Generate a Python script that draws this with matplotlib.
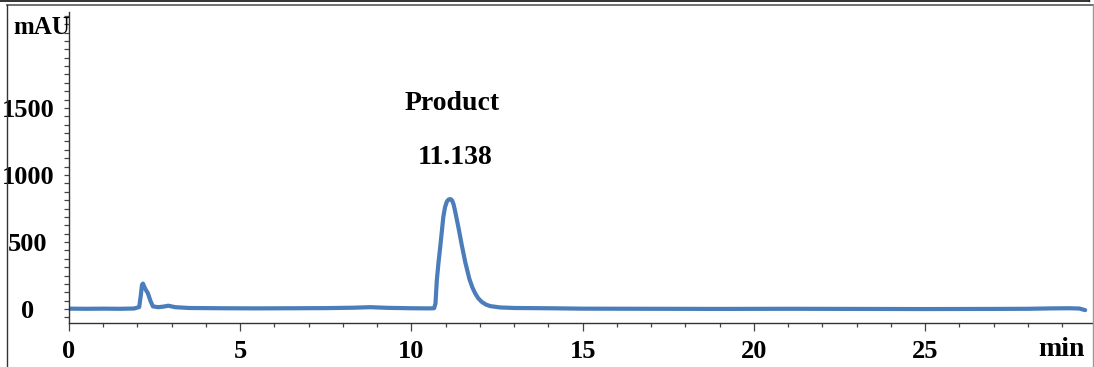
import matplotlib.pyplot as plt
from matplotlib.ticker import MultipleLocator
from matplotlib.lines import Line2D

# HPLC trace, retention time (min) vs absorbance (mAU)
time_min = [0.0, 0.5, 1.0, 1.5, 1.9, 2.05, 2.10, 2.13, 2.16, 2.20, 2.25, 2.30, 2.38, 2.45,
            2.6, 2.75, 2.9, 3.1, 3.5, 4.5, 5.5, 6.5, 7.5, 8.3, 8.8, 9.3, 10.0,
            10.5, 10.66, 10.70, 10.74, 10.79, 10.84, 10.93, 10.98, 11.03, 11.07, 11.10,
            11.138, 11.16, 11.19, 11.23, 11.27, 11.37, 11.47, 11.57, 11.69, 11.78,
            11.86, 11.95, 12.05, 12.17, 12.30, 12.59, 13.0, 14.0, 15.0,
            17.0, 19.0, 21.0, 23.0, 25.0, 27.0, 28.0, 28.7, 29.2, 29.5, 29.67]
signal_mau = [3, 2, 3, 2, 4, 15, 110, 180, 190, 165, 140, 120, 60, 20,
              14, 18, 25, 14, 8, 6, 5, 6, 7, 10, 14, 9, 6,
              5, 6, 40, 216, 350, 465, 689, 760, 800, 814, 819,
              820, 817, 808, 780, 735, 610, 475, 350, 225, 160,
              117, 80, 54, 34, 22, 12, 8, 6, 3,
              2, 1, 2, 1, 0, 1, 2, 5, 6, 4, -8]

peak_name = 'Product'
peak_rt = '11.138'

x_ticks = [0, 5, 10, 15, 20, 25]
y_ticks = [0, 500, 1000, 1500]

plt.rcParams['font.family'] = ['Liberation Serif', 'DejaVu Serif']
plt.rcParams['font.weight'] = 'bold'

fig = plt.figure(figsize=(10.94, 3.67), dpi=100)
ax = fig.add_axes([69 / 1094, 1 - 323 / 367, (1092 - 69) / 1094, (323 - 12) / 367])

ax.plot(time_min, signal_mau, color='#4a7dba', lw=3.0,
        solid_joinstyle='round', solid_capstyle='round')

ax.set_xlim(0, 29.87)
ax.set_ylim(-104, 2216)

ax.set_xticks(x_ticks)
ax.set_yticks(y_ticks)
ax.xaxis.set_minor_locator(MultipleLocator(1))
ax.yaxis.set_minor_locator(MultipleLocator(62.5))

ax.tick_params(axis='both', which='both', direction='out', color='#444444',
               labelsize=19, width=0.9)
ax.tick_params(axis='x', which='major', length=5.5, pad=7)
ax.tick_params(axis='x', which='minor', length=3)
ax.tick_params(axis='y', which='major', length=3.5, pad=26)
ax.tick_params(axis='y', which='minor', length=3.5)
for lab in ax.get_yticklabels():
    lab.set_horizontalalignment('center')
for lab in ax.get_xticklabels() + ax.get_yticklabels():
    lab.set_fontweight('bold')

for side in ['top', 'right']:
    ax.spines[side].set_visible(False)
for side in ['left', 'bottom']:
    ax.spines[side].set_color('#333333')
    ax.spines[side].set_linewidth(1.0)

# peak annotation
ax.text(11.19, 1537, peak_name, ha='center', va='center', fontsize=20, fontweight='bold')
ax.text(11.27, 1127, peak_rt, ha='center', va='center', fontsize=20, fontweight='bold')

# axis unit labels
fig.text(42 / 1094, 1 - 27 / 367, 'mAU', ha='center', va='center', fontsize=18, fontweight='bold')
fig.text(1061 / 1094, 1 - 350 / 367, 'min', ha='center', va='center', fontsize=20, fontweight='bold')

# frame around the figure
def fx(px):
    return px / 1094

def fy(py):
    return 1 - py / 367

frame = [
    ([fx(0), fx(1089)], [fy(0.8), fy(0.8)], '#222222', 1.3),
    ([fx(1089), fx(1089)], [fy(0), fy(0.8)], '#222222', 1.0),
    ([fx(7), fx(1092.5)], [fy(4.5), fy(4.5)], '#666666', 1.3),
    ([fx(7), fx(7)], [fy(4.5), fy(367)], '#333333', 1.0),
    ([fx(1092.5), fx(1092.5)], [fy(4.5), fy(367)], '#999999', 1.0),
]
for xs, ys, c, w in frame:
    fig.add_artist(Line2D(xs, ys, color=c, lw=w, transform=fig.transFigure))

fig.savefig('out.png', dpi=100)
